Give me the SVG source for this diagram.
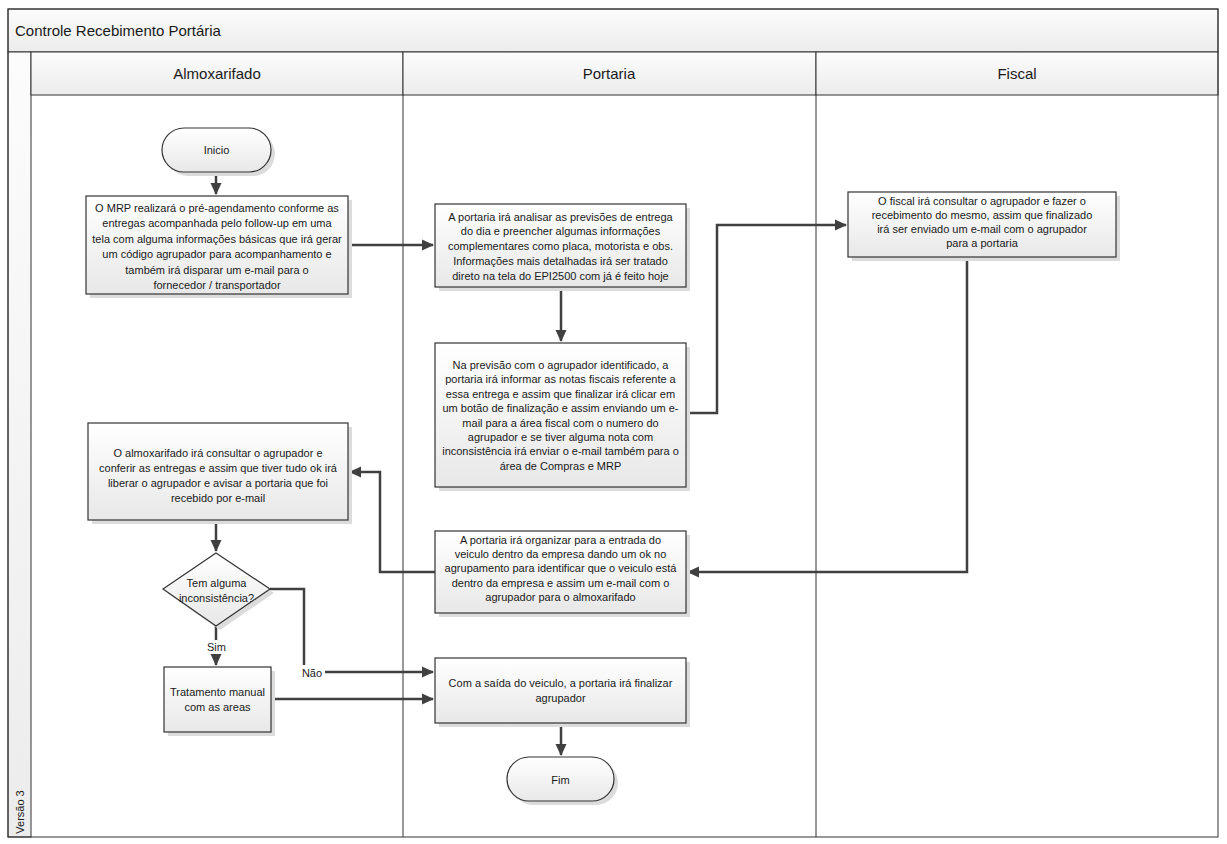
<svg xmlns="http://www.w3.org/2000/svg" width="1227" height="844" viewBox="0 0 1227 844">
<defs>
<linearGradient id="gBox" x1="0" y1="0" x2="0" y2="1"><stop offset="0" stop-color="#ffffff"/><stop offset="1" stop-color="#e8e8e8"/></linearGradient>
<linearGradient id="gHead" x1="0" y1="0" x2="0" y2="1"><stop offset="0" stop-color="#fcfcfc"/><stop offset="1" stop-color="#ececec"/></linearGradient>
<marker id="arr" markerUnits="userSpaceOnUse" markerWidth="12" markerHeight="12" viewBox="0 0 12 12" refX="11" refY="6" orient="auto"><path d="M0,0.5 L12,6 L0,11.5 Z" fill="#404040"/></marker>
</defs>
<style>
.frame{fill:none;stroke:#333;stroke-width:1}
.head{fill:url(#gHead);stroke:#333;stroke-width:1}
.box{fill:url(#gBox);stroke:#333;stroke-width:1.2}
.sh{fill:#dcdcdc}
.t{font-family:"Liberation Sans",Arial,sans-serif;font-size:11px;fill:#1a1a1a;text-anchor:middle}
.h{font-family:"Liberation Sans",Arial,sans-serif;font-size:15px;fill:#1a1a1a;text-anchor:middle}
.c{fill:none;stroke:#404040;stroke-width:2.5}
</style>
<rect x="0" y="0" width="1227" height="844" fill="#ffffff"/>
<g id="pool">
<rect class="head" x="8" y="9" width="1210" height="43"/>
<text x="15" y="36" font-family="Liberation Sans,Arial,sans-serif" font-size="15" fill="#1a1a1a">Controle Recebimento Portária</text>
<rect class="head" x="8" y="52" width="23" height="785"/>
<text class="t" transform="translate(24,812) rotate(-90)">Versão 3</text>
<rect class="head" x="31" y="52" width="372" height="43"/>
<rect class="head" x="403" y="52" width="413" height="43"/>
<rect class="head" x="816" y="52" width="402" height="43"/>
<text class="h" x="217" y="79">Almoxarifado</text>
<text class="h" x="609" y="79">Portaria</text>
<text class="h" x="1017" y="79">Fiscal</text>
<line class="frame" x1="403" y1="95" x2="403" y2="837"/>
<line class="frame" x1="816" y1="95" x2="816" y2="837"/>
<rect class="frame" x="8" y="9" width="1210" height="828"/>
</g>
<g id="connectors">
<path class="c" d="M216,172 V194" marker-end="url(#arr)"/>
<path class="c" d="M348,245 H433" marker-end="url(#arr)"/>
<path class="c" d="M561,287 V341" marker-end="url(#arr)"/>
<path class="c" d="M686,413 H717 V225 H846" marker-end="url(#arr)"/>
<path class="c" d="M967,257 V572 H688" marker-end="url(#arr)"/>
<path class="c" d="M435,572 H380 V472 H350" marker-end="url(#arr)"/>
<path class="c" d="M216,520 V551" marker-end="url(#arr)"/>
<path class="c" d="M270,589 H304 V672 H433" marker-end="url(#arr)"/>
<path class="c" d="M216,626 V665" marker-end="url(#arr)"/>
<path class="c" d="M271,699 H433" marker-end="url(#arr)"/>
<path class="c" d="M561,723 V755" marker-end="url(#arr)"/>
<rect x="202" y="640" width="29" height="14" fill="#ffffff"/>
<text class="t" x="216.5" y="651">Sim</text>
<rect x="300" y="665" width="25" height="14" fill="#ffffff"/>
<text class="t" x="312" y="677">Não</text>
</g>
<g id="inicio">
<rect class="sh" x="166" y="132" width="109" height="44" rx="22"/>
<rect class="box" x="162" y="128" width="109" height="44" rx="22"/>
<text class="t" x="216.5" y="154">Inicio</text>
</g>
<g id="mrp">
<rect class="sh" x="90" y="200" width="262" height="98"/>
<rect class="box" x="86" y="196" width="262" height="98"/>
<text class="t" x="217" y="212">O MRP realizará o pré-agendamento conforme as</text>
<text class="t" x="217" y="227.4">entregas acompanhada pelo follow-up em uma</text>
<text class="t" x="217" y="242.8">tela com alguma informações básicas que irá gerar</text>
<text class="t" x="217" y="258.2">um código agrupador para acompanhamento e</text>
<text class="t" x="217" y="273.6">também irá disparar um e-mail para o</text>
<text class="t" x="217" y="289">fornecedor / transportador</text>
</g>
<g id="portaria1">
<rect class="sh" x="439" y="208" width="251" height="83"/>
<rect class="box" x="435" y="204" width="251" height="83"/>
<text class="t" x="560.5" y="220.5">A portaria irá analisar as previsões de entrega</text>
<text class="t" x="560.5" y="235.3">do dia e preencher algumas informações</text>
<text class="t" x="560.5" y="250">complementares como placa, motorista e obs.</text>
<text class="t" x="560.5" y="265">Informações mais detalhadas irá ser tratado</text>
<text class="t" x="560.5" y="280">direto na tela do EPI2500 com já é feito hoje</text>
</g>
<g id="portaria2">
<rect class="sh" x="439" y="347" width="251" height="144"/>
<rect class="box" x="435" y="343" width="251" height="144"/>
<text class="t" x="560.5" y="369">Na previsão com o agrupador identificado, a</text>
<text class="t" x="560.5" y="383.4">portaria irá informar as notas fiscais referente a</text>
<text class="t" x="560.5" y="397.8">essa entrega e assim que finalizar irá clicar em</text>
<text class="t" x="560.5" y="412.2">um botão de finalização e assim enviando um e-</text>
<text class="t" x="560.5" y="426.6">mail para a área fiscal com o numero do</text>
<text class="t" x="560.5" y="441">agrupador e se tiver alguma nota com</text>
<text class="t" x="560.5" y="455.4">inconsistência irá enviar o e-mail também para o</text>
<text class="t" x="560.5" y="469.8">área de Compras e MRP</text>
</g>
<g id="fiscal">
<rect class="sh" x="852" y="196" width="268" height="65"/>
<rect class="box" x="848" y="192" width="268" height="65"/>
<text class="t" x="982" y="205">O fiscal irá consultar o agrupador e fazer o</text>
<text class="t" x="982" y="219">recebimento do mesmo, assim que finalizado</text>
<text class="t" x="982" y="233.3">irá ser enviado um e-mail com o agrupador</text>
<text class="t" x="982" y="247.3">para a portaria</text>
</g>
<g id="portaria3">
<rect class="sh" x="439" y="535" width="251" height="82"/>
<rect class="box" x="435" y="531" width="251" height="82"/>
<text class="t" x="560.5" y="544">A portaria irá organizar para a entrada do</text>
<text class="t" x="560.5" y="558.2">veiculo dentro da empresa dando um ok no</text>
<text class="t" x="560.5" y="572.4">agrupamento para identificar que o veiculo está</text>
<text class="t" x="560.5" y="586.6">dentro da empresa e assim um e-mail com o</text>
<text class="t" x="560.5" y="600.8">agrupador para o almoxarifado</text>
</g>
<g id="almox">
<rect class="sh" x="92" y="427" width="260" height="97"/>
<rect class="box" x="88" y="423" width="260" height="97"/>
<text class="t" x="218" y="457.3">O almoxarifado irá consultar o agrupador e</text>
<text class="t" x="218" y="472">conferir as entregas e assim que tiver tudo ok irá</text>
<text class="t" x="218" y="486.8">liberar o agrupador e avisar a portaria que foi</text>
<text class="t" x="218" y="501.5">recebido por e-mail</text>
</g>
<g id="decisao">
<path class="sh" d="M220,557 L274,593 L220,630 L167,593 Z"/>
<path class="box" d="M216,553 L270,589 L216,626 L163,589 Z"/>
<text class="t" x="216.5" y="587">Tem alguma</text>
<text class="t" x="216.5" y="601.5">inconsistência?</text>
</g>
<g id="tratamento">
<rect class="sh" x="168" y="671" width="107" height="65"/>
<rect class="box" x="164" y="667" width="107" height="65"/>
<text class="t" x="217.5" y="695.5">Tratamento manual</text>
<text class="t" x="217.5" y="710.5">com as areas</text>
</g>
<g id="finalizar">
<rect class="sh" x="439" y="662" width="251" height="65"/>
<rect class="box" x="435" y="658" width="251" height="65"/>
<text class="t" x="560.5" y="687">Com a saída do veiculo, a portaria irá finalizar</text>
<text class="t" x="560.5" y="702">agrupador</text>
</g>
<g id="fim">
<rect class="sh" x="511" y="761" width="107" height="44" rx="22"/>
<rect class="box" x="507" y="757" width="107" height="44" rx="22"/>
<text class="t" x="560.5" y="784">Fim</text>
</g>
</svg>
